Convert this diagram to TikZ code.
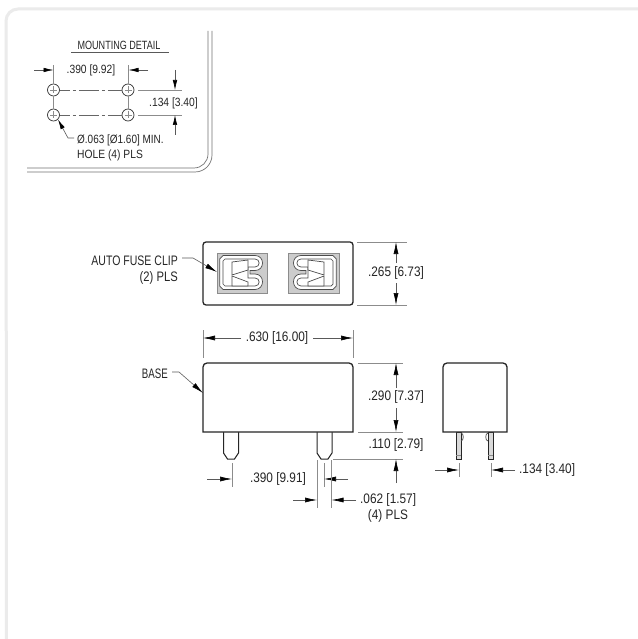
\documentclass[tikz,border=0pt]{standalone}
\usepackage{fontspec}
\setmainfont[FakeStretch=0.86]{Liberation Sans}
\usetikzlibrary{arrows.meta}
\tikzset{
  dimtext/.style={font=\fontsize{13.8}{15}\selectfont, text=black!85, inner sep=0pt},
  smalltext/.style={font=\fontsize{12}{14}\selectfont, text=black!85, inner sep=0pt},
  dimline/.style={draw=black!45, line width=.6pt},
  dimarrow/.style={draw=black!65, line width=.6pt, -{Latex[length=12bp,width=5bp,color=black]}},
  smallarrow/.style={draw=black!65, line width=.6pt, -{Latex[length=10bp,width=4.5bp,color=black]}},
  outline/.style={draw=black!85, line width=1.3pt, fill=white},
  thinpart/.style={draw=black!70, line width=.7pt},
  pinhole/.style={draw=black!80, line width=.7pt, circle, minimum size=12bp, inner sep=0pt},
  centerline/.style={draw=black!60, line width=.6pt, dash pattern=on 10bp off 3bp on 3bp off 3bp on 20bp off 3bp on 3bp off 3bp on 30bp off 0bp}
}
\begin{document}
\begin{tikzpicture}[x=1bp,y=-1bp]
  \useasboundingbox (0,0) rectangle (638,639);
  \fill[white] (0,0) rectangle (638,639);
  % outer frame
  \draw[black!8, line width=3bp] (640,9) -- (18,9) arc (270:180:12) -- (6.5,641);
  % mounting detail box
  \draw[black!55, line width=.7pt] (208,31) -- (208,154) arc (0:90:14) -- (27,168);
  \draw[black!55, line width=.7pt] (212,31) -- (212,155) arc (0:90:17) -- (27,172);
  \node[smalltext, xscale=.88] (mounttitle) at (119,45) {MOUNTING DETAIL};
  \coordinate (titleleft) at (71,52);
  \coordinate (titleright) at (169,52);
  \draw[dimline, draw=black!65] (titleleft) -- (titleright);
  \node[pinhole] (h1) at (53.5,90) {};
  \node[pinhole] (h2) at (128,90) {};
  \node[pinhole] (h3) at (53.5,115) {};
  \node[pinhole] (h4) at (128,115) {};
  \foreach \h in {h1,h2,h3,h4} {
    \draw[dimline] (\h.center) ++(-3.5,0) -- ++(7,0) (\h.center) ++(0,-3.5) -- ++(0,7);
  }
  \draw[centerline] (h1) -- (h2);
  \draw[centerline] (h3) -- (h4);
  \draw[dimline] (h1) -- (h3) (h2) -- (h4);
  \draw[dimline] (h1.north) -- +(0,-19) (h2.north) -- +(0,-19);
  \draw[dimline] (138,90) -- (182,90) (138,115) -- (182,115);
  \node[smalltext] (hspan) at (91,70) {.390 [9.92]};
  \draw[smallarrow] (34,70) -- (53.5,70);
  \draw[smallarrow] (148,70) -- (128.5,70);
  \node[smalltext, anchor=west] (vspan) at (149,103) {.134 [3.40]};
  \draw[smallarrow] (175,70) -- (175,90);
  \draw[smallarrow] (175,135) -- (175,115);
  \node[smalltext, xscale=.97, anchor=west] (holetext) at (77,140) {Ø.063 [Ø1.60] MIN.};
  \node[smalltext, anchor=west] (holetext2) at (77,155) {HOLE (4) PLS};
  \draw[smallarrow] (74,138) -- (68,138) -- (h3.south east);
  % top view
  \draw[outline, rounded corners=3bp] (203,242) rectangle (353,305);
  \foreach \x/\s in {217/1, 339/-1} {
    \begin{scope}[shift={(\x,253)}]
      \draw[thinpart, draw=black!45, fill=black!20] (0,0) rectangle (\s*50.5,40);
      % loop with two hooks
      \draw[thinpart, fill=white] (\s*6,2.5) -- (\s*38,2.5) .. controls (\s*48,2.5) and (\s*48,17.5) .. (\s*38,17.5) -- (\s*33,17.5) -- (\s*33,21) -- (\s*38,21) .. controls (\s*48,21) and (\s*48,36.5) .. (\s*38,36.5) -- (\s*6,36.5) -- (\s*2.7,33) -- (\s*2.7,6) -- cycle;
      \draw[thinpart] (\s*8,6) -- (\s*38,6) .. controls (\s*43.5,6) and (\s*43.5,14) .. (\s*38,14) -- (\s*31,14) -- (\s*31,25) -- (\s*38,25) .. controls (\s*43.5,25) and (\s*43.5,33) .. (\s*38,33) -- (\s*8,33) -- (\s*6,31) -- (\s*6,8) -- cycle;
      % contact blades
      \draw[thinpart, fill=white] (\s*15,9) -- (\s*31,7) -- (\s*31,17) -- (\s*15,22) -- cycle;
      \draw[thinpart, fill=white] (\s*15,23) -- (\s*31,29) -- (\s*31,33) -- (\s*15,33) -- cycle;
    \end{scope}
  }
  \node[dimtext, xscale=.89, anchor=east] (cliplabel) at (178,261) {AUTO FUSE CLIP};
  \node[dimtext, xscale=.95, anchor=east] (cliplabel2) at (178,278) {(2) PLS};
  \draw[dimarrow] (182,258) -- (193,258) -- (217,272);
  % top view height
  \draw[dimline] (357,242) -- (407,242) (357,305) -- (407,305);
  \node[dimtext] (topdim) at (396,273) {.265 [6.73]};
  \draw[dimarrow] (396,263) -- (396,242);
  \draw[dimarrow] (396,283) -- (396,305);
  % front view
  \foreach \x in {223.5,317} {
    \draw[outline, line width=1pt] (\x,432) -- (\x,453) -- (\x+4,459) -- (\x+11,459) -- (\x+15,453) -- (\x+15,432);
  }
  \draw[outline] (203,432) -- (203,367) arc (180:270:4) -- (349,363) arc (270:360:4) -- (353,432) -- cycle;
  \node[dimtext, xscale=.82, anchor=east] (baselabel) at (168,374) {BASE};
  \draw[dimarrow] (172,372) -- (179,372) -- (203,393);
  % width
  \draw[dimline] (203,330) -- (203,358) (353,330) -- (353,358);
  \node[dimtext] (widthdim) at (277,338) {.630 [16.00]};
  \draw[dimarrow] (241,338) -- (203,338);
  \draw[dimarrow] (313,338) -- (353,338);
  % height and pin
  \draw[dimline] (358,363) -- (403,363) (358,432) -- (403,432) (333,459) -- (403,459);
  \node[dimtext] (baseheight) at (396,397) {.290 [7.37]};
  \draw[dimarrow] (396,388) -- (396,363);
  \draw[dimarrow] (396,408) -- (396,432);
  \node[dimtext] (pinlen) at (396,445) {.110 [2.79]};
  \draw[dimarrow] (396,483) -- (396,459);
  % pin spacing
  \draw[dimline] (232,463) -- (232,487) (324,463) -- (324,487);
  \node[dimtext] (pinspan) at (278,479) {.390 [9.91]};
  \draw[dimarrow] (207,479) -- (232,479);
  \draw[dimarrow] (348,479) -- (324,479);
  % pin width
  \draw[dimline] (317,460) -- (317,508) (331.5,460) -- (331.5,508);
  \node[dimtext, anchor=west] (pinwidth) at (360,500) {.062 [1.57]};
  \node[dimtext] (pinwidth2) at (388,516) {(4) PLS};
  \draw[dimarrow] (293,500) -- (317,500);
  \draw[dimarrow] (356,500) -- (331.5,500);
  % side view
  \foreach \x in {456,488} {
    \draw[outline, line width=.9pt, fill=black!15] (\x,432) rectangle (\x+5,459);
    \draw[dimline] (\x,455) -- (\x+5,455);
  }
  \draw[thinpart] (461,433) .. controls (464,433) and (464,441) .. (461,441) (488,433) .. controls (485,433) and (485,441) .. (488,441);
  \draw[outline] (443,432) -- (443,367) arc (180:270:4) -- (503,363) arc (270:360:4) -- (507,432) -- cycle;
  \draw[dimline] (459,463) -- (459,477) (491,463) -- (491,477);
  \draw[dimarrow] (435,470) -- (459,470);
  \draw[dimarrow] (515,470) -- (491,470);
  \node[dimtext, anchor=west] (sidedim) at (519,470) {.134 [3.40]};
\end{tikzpicture}
\end{document}
